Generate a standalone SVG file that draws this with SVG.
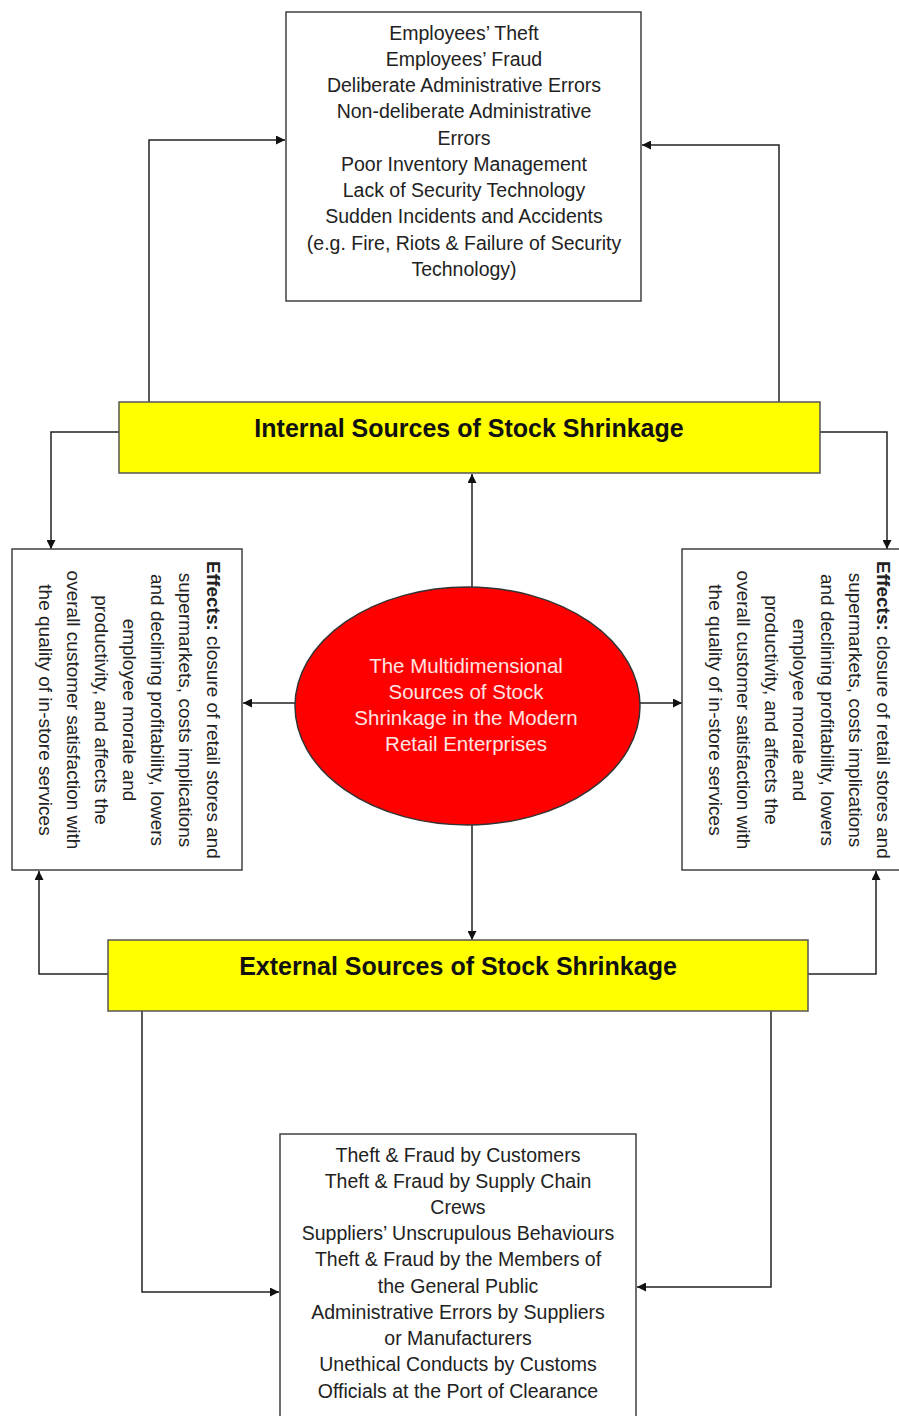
<svg xmlns="http://www.w3.org/2000/svg" width="899" height="1416" viewBox="0 0 899 1416">
<style>
.box{fill:#fff;stroke:#404040;stroke-width:1.5}
.bar{fill:#ffff00;stroke:#555;stroke-width:1.5}
.t{font-family:"Liberation Sans",Arial,sans-serif;font-size:19.5px;fill:#222;text-anchor:middle}
.h{font-family:"Liberation Sans",Arial,sans-serif;font-size:25px;font-weight:bold;fill:#111;text-anchor:middle}
.e{font-family:"Liberation Sans",Arial,sans-serif;font-size:19px;fill:#222;text-anchor:middle}
.c{font-family:"Liberation Sans",Arial,sans-serif;font-size:20.5px;fill:#ffe4e4;text-anchor:middle}
.ln{fill:none;stroke:#222;stroke-width:1.5;marker-end:url(#ah)}
</style>
<defs>
<marker id="ah" viewBox="0 0 10 10" refX="10" refY="5" markerWidth="9" markerHeight="9" markerUnits="userSpaceOnUse" orient="auto">
<path d="M0,0 L10,5 L0,10 z" fill="#111"/>
</marker>
</defs>
<rect width="899" height="1416" fill="#fff"/>

<g id="connectors">
<polyline class="ln" points="149,402 149,140 285,140"/>
<polyline class="ln" points="779,402 779,145 642,145"/>
<polyline class="ln" points="119,432 51,432 51,549"/>
<polyline class="ln" points="820,432 887,432 887,549"/>
<line class="ln" x1="472" y1="587" x2="472" y2="474"/>
<line class="ln" x1="295" y1="703" x2="243" y2="703"/>
<line class="ln" x1="640" y1="703" x2="682" y2="703"/>
<line class="ln" x1="472" y1="825" x2="472" y2="940"/>
<polyline class="ln" points="108,974 39,974 39,871"/>
<polyline class="ln" points="808,974 876,974 876,871"/>
<polyline class="ln" points="142,1011 142,1292 279,1292"/>
<polyline class="ln" points="771,1011 771,1287 637,1287"/>
</g>

<g id="internal-causes">
<rect class="box" x="286" y="12" width="355" height="289"/>
<text class="t" x="464" y="40">Employees’ Theft</text>
<text class="t" x="464" y="66">Employees’ Fraud</text>
<text class="t" x="464" y="92">Deliberate Administrative Errors</text>
<text class="t" x="464" y="118">Non-deliberate Administrative</text>
<text class="t" x="464" y="145">Errors</text>
<text class="t" x="464" y="171">Poor Inventory Management</text>
<text class="t" x="464" y="197">Lack of Security Technology</text>
<text class="t" x="464" y="223">Sudden Incidents and Accidents</text>
<text class="t" x="464" y="250">(e.g. Fire, Riots &amp; Failure of Security</text>
<text class="t" x="464" y="276">Technology)</text>
</g>

<g id="internal-sources">
<rect class="bar" x="119" y="402" width="701" height="71"/>
<text class="h" x="469" y="437">Internal Sources of Stock Shrinkage</text>
</g>

<g id="effects-left">
<rect class="box" x="12" y="549" width="230" height="321"/>
<g transform="translate(206.5,710) rotate(90)">
<text class="e" x="0" y="0"><tspan font-weight="bold">Effects:</tspan> closure of retail stores and</text>
<text class="e" x="0" y="28">supermarkets, costs implications</text>
<text class="e" x="0" y="56">and declining profitability, lowers</text>
<text class="e" x="0" y="84">employee morale and</text>
<text class="e" x="0" y="112">productivity, and affects the</text>
<text class="e" x="0" y="140">overall customer satisfaction with</text>
<text class="e" x="0" y="168">the quality of in-store services</text>
</g>
</g>

<g id="effects-right">
<rect class="box" x="682" y="549" width="230" height="321"/>
<g transform="translate(876.5,710) rotate(90)">
<text class="e" x="0" y="0"><tspan font-weight="bold">Effects:</tspan> closure of retail stores and</text>
<text class="e" x="0" y="28">supermarkets, costs implications</text>
<text class="e" x="0" y="56">and declining profitability, lowers</text>
<text class="e" x="0" y="84">employee morale and</text>
<text class="e" x="0" y="112">productivity, and affects the</text>
<text class="e" x="0" y="140">overall customer satisfaction with</text>
<text class="e" x="0" y="168">the quality of in-store services</text>
</g>
</g>

<g id="center">
<ellipse cx="467.5" cy="706" rx="172.5" ry="119" fill="#ff0000" stroke="#333" stroke-width="1.5"/>
<text class="c" x="466" y="673">The Multidimensional</text>
<text class="c" x="466" y="699">Sources of Stock</text>
<text class="c" x="466" y="725">Shrinkage in the Modern</text>
<text class="c" x="466" y="751">Retail Enterprises</text>
</g>

<g id="external-sources">
<rect class="bar" x="108" y="940" width="700" height="71"/>
<text class="h" x="458" y="975">External Sources of Stock Shrinkage</text>
</g>

<g id="external-causes">
<rect class="box" x="280" y="1134" width="356" height="300"/>
<text class="t" x="458" y="1162">Theft &amp; Fraud by Customers</text>
<text class="t" x="458" y="1188">Theft &amp; Fraud by Supply Chain</text>
<text class="t" x="458" y="1214">Crews</text>
<text class="t" x="458" y="1240">Suppliers’ Unscrupulous Behaviours</text>
<text class="t" x="458" y="1266">Theft &amp; Fraud by the Members of</text>
<text class="t" x="458" y="1293">the General Public</text>
<text class="t" x="458" y="1319">Administrative Errors by Suppliers</text>
<text class="t" x="458" y="1345">or Manufacturers</text>
<text class="t" x="458" y="1371">Unethical Conducts by Customs</text>
<text class="t" x="458" y="1398">Officials at the Port of Clearance</text>
</g>
</svg>
